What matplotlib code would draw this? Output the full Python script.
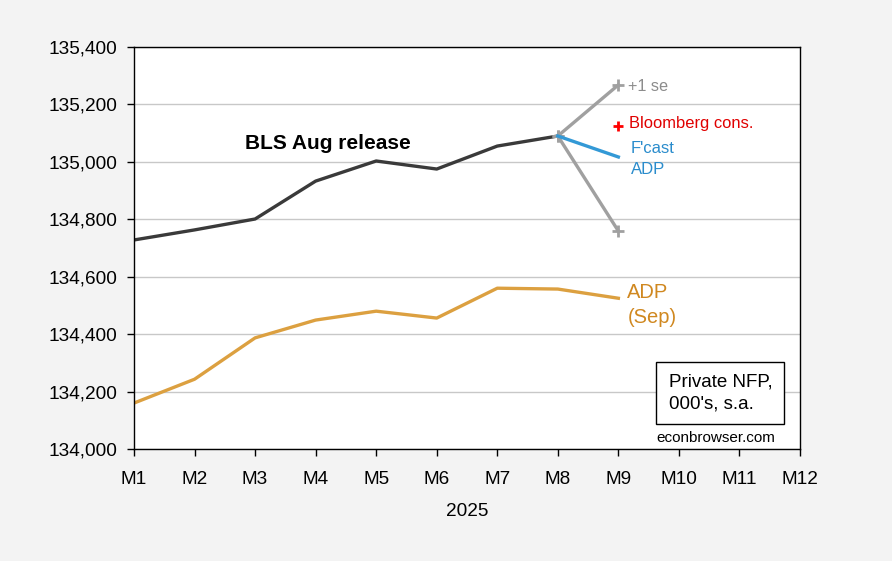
import matplotlib
matplotlib.use("Agg")
import matplotlib.pyplot as plt

plt.rcParams['font.family'] = ['Liberation Sans', 'DejaVu Sans']

# months M1..M12 of 2025
months = ["M1", "M2", "M3", "M4", "M5", "M6", "M7", "M8", "M9", "M10", "M11", "M12"]

# private NFP, BLS August release (M1..M8)
bls = [134728, 134763, 134801, 134933, 135003, 134975, 135055, 135090]
# ADP September release (M1..M9)
adp = [134160, 134243, 134387, 134449, 134480, 134456, 134560, 134557, 134525]
# forecast from M8 to M9
fcast_adp = [135090, 135017]
se_up = [135090, 135268]
se_dn = [135090, 134759]
bloomberg = 135125

fig = plt.figure(figsize=(8.92, 5.61), dpi=100, facecolor="#f3f3f3")
ax = fig.add_axes([134/892, 1-449/561, (800-134)/892, (449-47)/561])
ax.set_facecolor("white")

x = list(range(1, 13))
ax.plot(x[:8], bls, color="#3a3a3a", lw=2.4)
ax.plot(x[:9], adp, color="#dca040", lw=2.4)
ax.plot([8, 9], se_up, color="#a0a0a0", lw=2.4, marker="+", ms=8, mew=2)
ax.plot([8, 9], se_dn, color="#a0a0a0", lw=2.4, marker="+", ms=8, mew=2)
ax.plot([8, 9], fcast_adp, color="#3399d6", lw=2.4)
ax.plot([9], [bloomberg], color="red", marker="+", ms=7, mew=2, ls="none")

ax.set_xlim(1, 12)
ax.set_ylim(134000, 135400)
ax.set_yticks(range(134000, 135401, 200))
ax.set_yticklabels([f"{v:,}" for v in range(134000, 135401, 200)])
ax.set_xticks(x)
ax.set_xticklabels(months)
ax.grid(axis="y", color="#c8c8c8", lw=1)
ax.set_axisbelow(True)
ax.tick_params(labelsize=13.7, length=5, width=1)
ax.tick_params(axis="x", pad=11)
ax.tick_params(axis="y", pad=7)
for s in ax.spines.values():
    s.set_linewidth(1)
ax.set_xlabel("2025", fontsize=13.7, labelpad=11)

ax.text(4.21, 135063, "BLS Aug release", fontsize=15, fontweight="bold", ha="center", va="center")
ax.text(9.16, 135262, "+1 se", fontsize=11.7, color="#8c8c8c", va="center")
ax.text(9.18, 135132, "Bloomberg cons.", fontsize=11.9, color="#e00000", va="center")
ax.text(9.2, 135010, "F'cast\nADP", fontsize=12, color="#2a8ccc", va="center", linespacing=1.55)
ax.text(9.15, 134503, "ADP\n(Sep)", fontsize=14.5, color="#d08820", va="center", linespacing=1.4)
ax.text(9.83, 134195, "Private NFP,\n000's, s.a.", fontsize=13.5, va="center", linespacing=1.35,
        bbox=dict(boxstyle="square,pad=0.65", fc="white", ec="black", lw=1))
ax.text(9.63, 134038, "econbrowser.com", fontsize=11, va="center")

fig.savefig("out.png", dpi=100, facecolor=fig.get_facecolor())
